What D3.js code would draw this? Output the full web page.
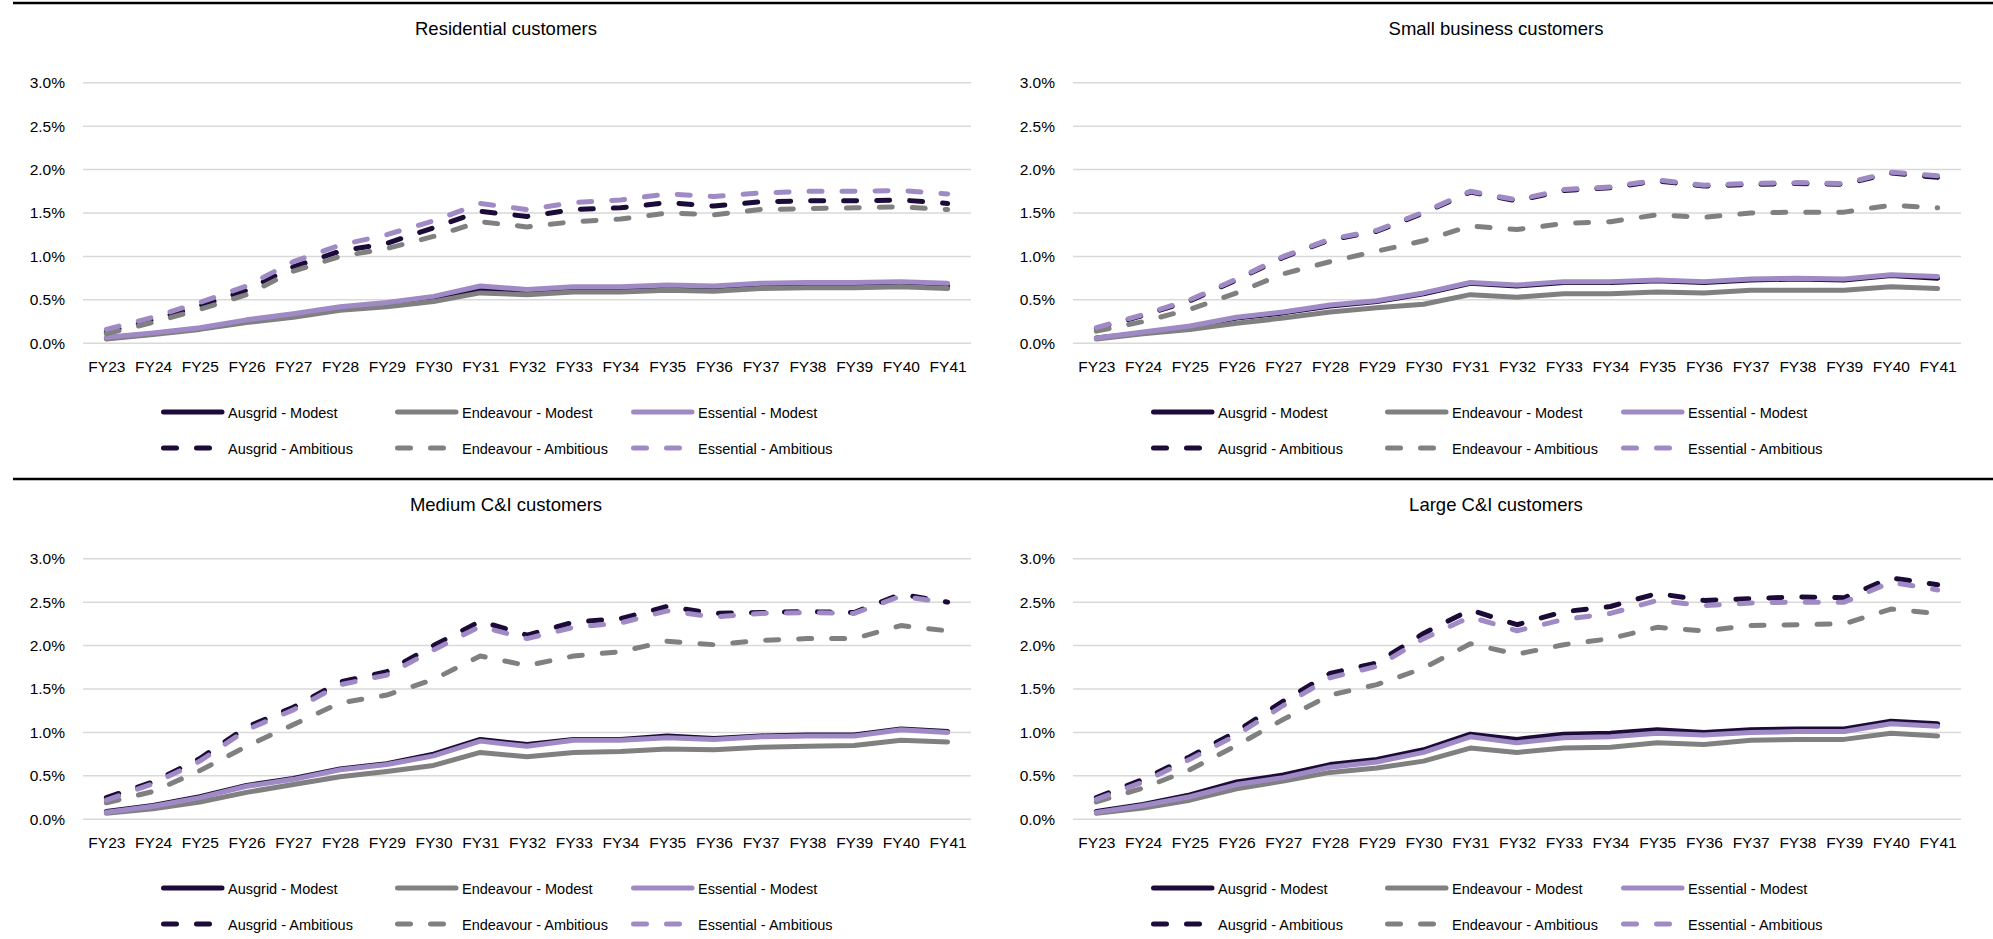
<!DOCTYPE html>
<html>
<head>
<meta charset="utf-8">
<script src="https://cdn.jsdelivr.net/npm/d3@7"></script>
<style>
  body { margin: 0; background: #fff; }
  text { font-family: "Liberation Sans", Arial, sans-serif; fill: #000; }
</style>
</head>
<body>
<svg id="chart"></svg>
<script>
const years = ['FY23','FY24','FY25','FY26','FY27','FY28','FY29','FY30','FY31','FY32',
  'FY33','FY34','FY35','FY36','FY37','FY38','FY39','FY40','FY41'];
const yTicks = [0, 0.5, 1, 1.5, 2, 2.5, 3];
const seriesNames = ['Ausgrid - Modest', 'Endeavour - Modest', 'Essential - Modest',
  'Ausgrid - Ambitious', 'Endeavour - Ambitious', 'Essential - Ambitious'];
const panelTitles = ['Residential customers', 'Small business customers',
  'Medium C&I customers', 'Large C&I customers'];

// residential (% values)
const resAusMod = [0.06,0.11,0.17,0.25,0.32,0.40,0.45,0.52,0.62,0.59,0.62,0.62,0.64,0.63,0.66,0.67,0.67,0.67,0.66];
const resEndMod = [0.05,0.10,0.16,0.24,0.30,0.38,0.42,0.48,0.58,0.56,0.59,0.59,0.61,0.60,0.63,0.64,0.64,0.65,0.63];
const resEssMod = [0.07,0.12,0.18,0.27,0.34,0.42,0.47,0.54,0.66,0.62,0.65,0.65,0.67,0.66,0.69,0.70,0.70,0.71,0.69];
const resAusAmb = [0.13,0.27,0.43,0.61,0.88,1.06,1.15,1.33,1.52,1.46,1.54,1.56,1.62,1.58,1.63,1.64,1.64,1.65,1.61];
const resEndAmb = [0.11,0.24,0.39,0.56,0.83,1.00,1.09,1.23,1.40,1.34,1.40,1.43,1.50,1.48,1.54,1.55,1.56,1.57,1.54];
const resEssAmb = [0.16,0.30,0.47,0.66,0.94,1.13,1.25,1.41,1.61,1.54,1.62,1.65,1.72,1.69,1.73,1.75,1.75,1.76,1.72];

// small business
const sbAusMod = [0.06,0.12,0.19,0.29,0.35,0.43,0.48,0.57,0.69,0.66,0.70,0.70,0.72,0.70,0.73,0.74,0.73,0.78,0.75];
const sbEndMod = [0.05,0.11,0.16,0.23,0.29,0.36,0.41,0.45,0.56,0.53,0.57,0.57,0.59,0.58,0.61,0.61,0.61,0.65,0.63];
const sbEssMod = [0.06,0.13,0.20,0.30,0.36,0.44,0.49,0.58,0.70,0.67,0.71,0.71,0.73,0.71,0.74,0.75,0.74,0.79,0.77];
const sbAusAmb = [0.17,0.32,0.49,0.73,0.99,1.19,1.29,1.50,1.74,1.64,1.76,1.79,1.87,1.81,1.83,1.84,1.83,1.96,1.91];
const sbEndAmb = [0.14,0.25,0.39,0.58,0.80,0.94,1.06,1.18,1.35,1.31,1.38,1.40,1.48,1.45,1.50,1.51,1.51,1.59,1.56];
const sbEssAmb = [0.18,0.33,0.50,0.74,1.00,1.20,1.30,1.51,1.75,1.65,1.77,1.80,1.88,1.82,1.84,1.85,1.84,1.97,1.93];

// medium C&I
const medAusMod = [0.09,0.16,0.26,0.39,0.47,0.58,0.64,0.75,0.92,0.86,0.92,0.92,0.96,0.93,0.96,0.97,0.97,1.04,1.01];
const medEndMod = [0.07,0.12,0.20,0.31,0.40,0.49,0.55,0.62,0.77,0.72,0.77,0.78,0.81,0.80,0.83,0.84,0.85,0.91,0.89];
const medEssMod = [0.08,0.15,0.25,0.38,0.46,0.57,0.63,0.73,0.90,0.84,0.91,0.91,0.94,0.92,0.95,0.96,0.96,1.03,1.00];
const medAusAmb = [0.25,0.43,0.70,1.06,1.29,1.58,1.70,2.00,2.28,2.12,2.27,2.31,2.45,2.37,2.38,2.39,2.38,2.59,2.50];
const medEndAmb = [0.19,0.32,0.56,0.84,1.09,1.34,1.43,1.61,1.88,1.77,1.88,1.93,2.05,2.01,2.06,2.08,2.08,2.23,2.17];
const medEssAmb = [0.22,0.41,0.67,1.03,1.26,1.55,1.66,1.95,2.22,2.08,2.21,2.26,2.40,2.33,2.37,2.38,2.37,2.57,2.49];

// large C&I
const lrgAusMod = [0.09,0.17,0.28,0.43,0.51,0.63,0.69,0.80,0.98,0.92,0.98,0.99,1.03,1.00,1.03,1.04,1.04,1.13,1.10];
const lrgEndMod = [0.07,0.13,0.22,0.35,0.44,0.54,0.59,0.67,0.82,0.77,0.82,0.83,0.88,0.86,0.91,0.92,0.92,0.99,0.96];
const lrgEssMod = [0.08,0.16,0.26,0.40,0.48,0.60,0.66,0.77,0.95,0.88,0.94,0.95,0.99,0.97,1.00,1.01,1.01,1.10,1.07];
const lrgAusAmb = [0.25,0.46,0.72,1.01,1.36,1.68,1.80,2.14,2.41,2.24,2.39,2.45,2.60,2.52,2.54,2.56,2.55,2.78,2.70];
const lrgEndAmb = [0.20,0.36,0.57,0.85,1.15,1.43,1.55,1.74,2.02,1.90,2.01,2.08,2.21,2.17,2.23,2.24,2.25,2.42,2.37];
const lrgEssAmb = [0.23,0.43,0.69,0.97,1.31,1.63,1.76,2.08,2.33,2.17,2.30,2.37,2.52,2.46,2.49,2.50,2.50,2.73,2.64];

const colours = ['#1c0b38', '#808080', '#a08ac6', '#1c0b38', '#808080', '#a08ac6'];
const dashed = [false, false, false, true, true, true];

const panels = [
  {title: panelTitles[0], dx: 0,   dy: 0,   series: [resAusMod, resEndMod, resEssMod, resAusAmb, resEndAmb, resEssAmb]},
  {title: panelTitles[1], dx: 990, dy: 0,   series: [sbAusMod, sbEndMod, sbEssMod, sbAusAmb, sbEndAmb, sbEssAmb]},
  {title: panelTitles[2], dx: 0,   dy: 476, series: [medAusMod, medEndMod, medEssMod, medAusAmb, medEndAmb, medEssAmb]},
  {title: panelTitles[3], dx: 990, dy: 476, series: [lrgAusMod, lrgEndMod, lrgEssMod, lrgAusAmb, lrgEndAmb, lrgEssAmb]}
];

const W = 1993, H = 939;
const svg = d3.select('#chart').attr('width', W).attr('height', H);

// black rules across the page
[3, 479].forEach(y => {
  svg.append('line').attr('x1', 13).attr('x2', W).attr('y1', y).attr('y2', y)
    .attr('stroke', '#000').attr('stroke-width', 2.5);
});

const x = d3.scalePoint().domain(years).range([83, 971]).padding(0.5);
const y = d3.scaleLinear().domain([0, 3]).range([343.3, 82.7]);
const line = d3.line().x((d, i) => x(years[i])).y(d => y(d));

panels.forEach(p => {
  const g = svg.append('g').attr('transform', `translate(${p.dx},${p.dy})`);

  g.append('text').attr('x', 506).attr('y', 35).attr('text-anchor', 'middle')
    .style('font-size', '18.5px').text(p.title);

  // gridlines
  g.selectAll('.grid').data(yTicks).enter().append('line')
    .attr('x1', 83).attr('x2', 971)
    .attr('y1', d => y(d)).attr('y2', d => y(d))
    .attr('stroke', '#d9d9d9').attr('stroke-width', 1.5);

  const yAxis = g.append('g').attr('transform', 'translate(83,0)')
    .call(d3.axisLeft(y).tickValues(yTicks).tickSize(0).tickPadding(18)
      .tickFormat(d => d3.format('.1f')(d) + '%'));
  yAxis.select('.domain').remove();
  yAxis.selectAll('text').style('font-size', '15.5px').attr('fill', '#000')
    .style('font-family', '"Liberation Sans", Arial, sans-serif');

  const xAxis = g.append('g').attr('transform', 'translate(0,343.3)')
    .call(d3.axisBottom(x).tickSize(0).tickPadding(18));
  xAxis.select('.domain').remove();
  xAxis.selectAll('text').style('font-size', '15.5px').attr('fill', '#000')
    .style('font-family', '"Liberation Sans", Arial, sans-serif');

  p.series.forEach((vals, i) => {
    g.append('path').datum(vals)
      .attr('d', line)
      .attr('fill', 'none')
      .attr('stroke', colours[i])
      .attr('stroke-width', 5)
      .attr('stroke-linejoin', 'round')
      .attr('stroke-linecap', 'round')
      .attr('stroke-dasharray', dashed[i] ? '13,20' : null);
  });

  // legend
  const colX = [161, 395, 631];
  const rowY = [412, 448];
  seriesNames.forEach((name, i) => {
    const cx = colX[i % 3], cy = rowY[Math.floor(i / 3)];
    g.append('line').attr('x1', cx + 2.5).attr('x2', cx + 61).attr('y1', cy).attr('y2', cy)
      .attr('stroke', colours[i]).attr('stroke-width', 5)
      .attr('stroke-linecap', 'round')
      .attr('stroke-dasharray', dashed[i] ? '13,20' : null);
    g.append('text').attr('x', cx + 67).attr('y', cy + 5.5)
      .style('font-size', '14.5px').text(name);
  });
});
</script>
</body>
</html>
